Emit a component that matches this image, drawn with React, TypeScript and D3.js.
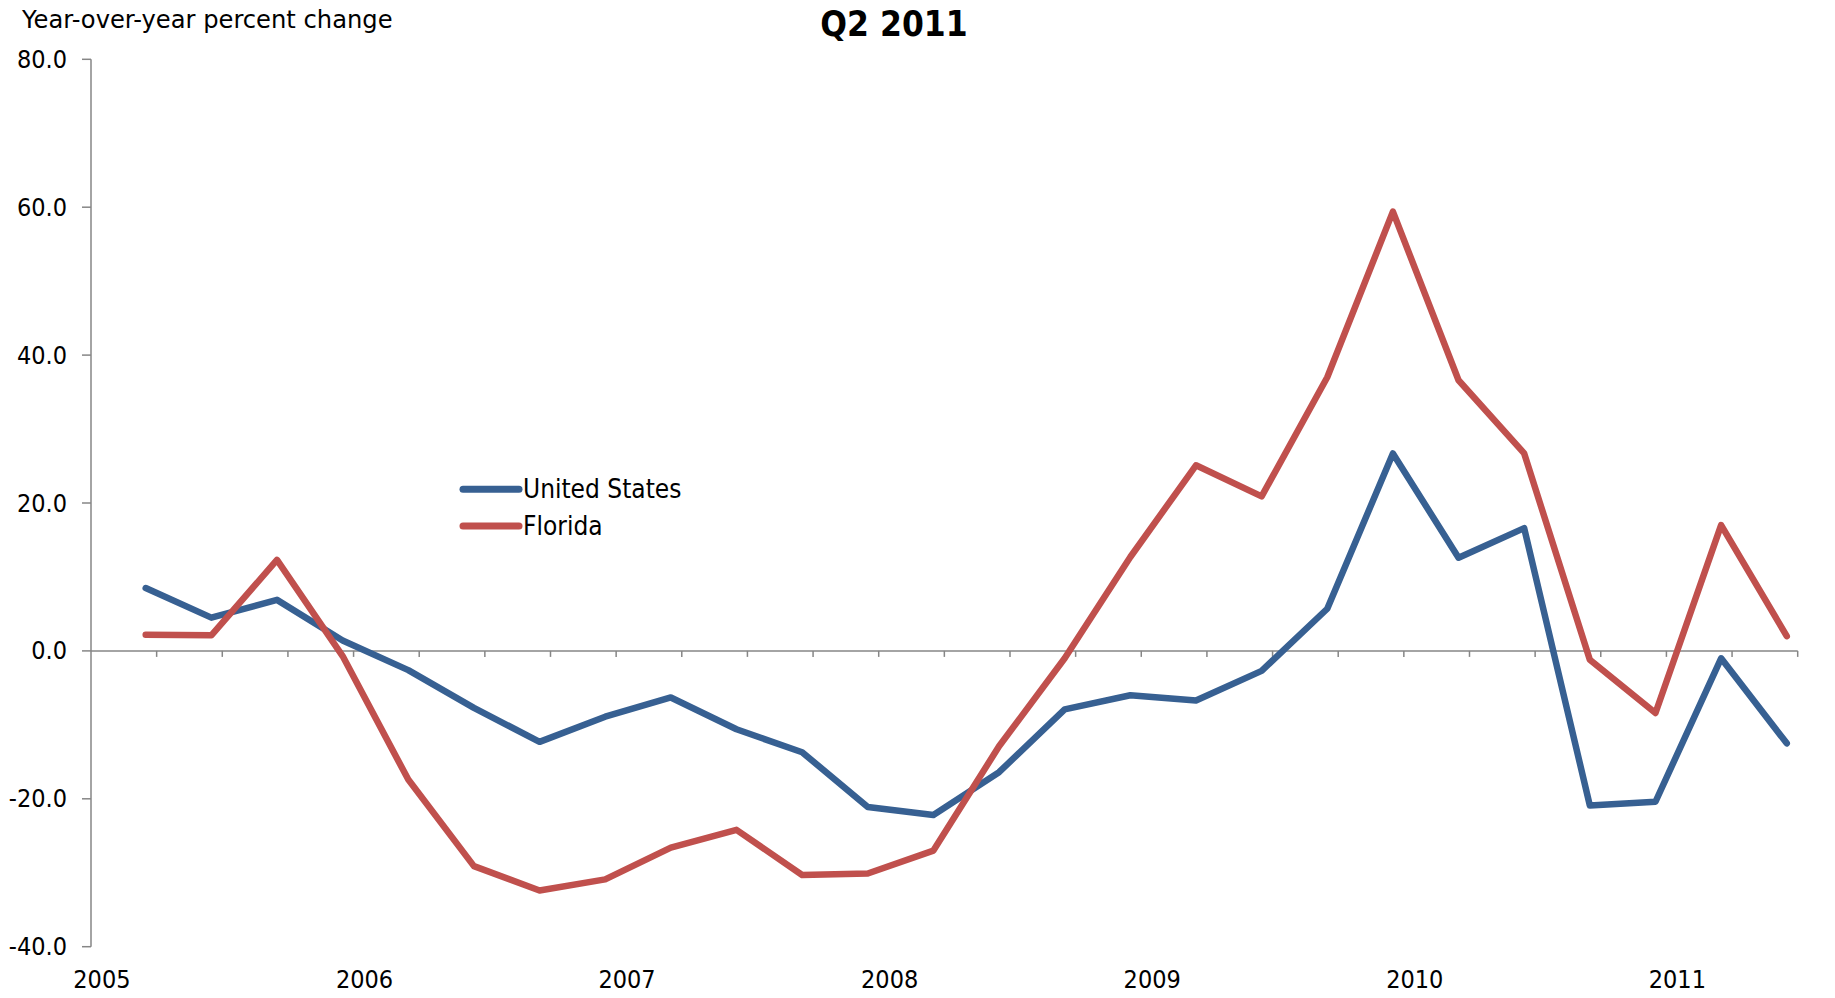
import React from 'react';
import * as d3 from 'd3';

// Quarterly observations
const periods = [
  '2005 Q1', '2005 Q2', '2005 Q3', '2005 Q4',
  '2006 Q1', '2006 Q2', '2006 Q3', '2006 Q4',
  '2007 Q1', '2007 Q2', '2007 Q3', '2007 Q4',
  '2008 Q1', '2008 Q2', '2008 Q3', '2008 Q4',
  '2009 Q1', '2009 Q2', '2009 Q3', '2009 Q4',
  '2010 Q1', '2010 Q2', '2010 Q3', '2010 Q4',
  '2011 Q1', '2011 Q2',
];

const unitedStates = [
  8.5, 4.5, 6.9, 1.4,
  -2.6, -7.7, -12.3, -8.9,
  -6.3, -10.6, -13.7, -21.1,
  -22.2, -16.4, -7.9, -6.0,
  -6.7, -2.7, 5.7, 26.7,
  12.6, 16.6, -20.9, -20.4,
  -1.0, -12.5,
];

const florida = [
  2.2, 2.1, 12.3, -0.7,
  -17.4, -29.1, -32.4, -30.9,
  -26.6, -24.2, -30.3, -30.1,
  -27.0, -12.9, -1.0, 12.7,
  25.1, 20.9, 37.0, 59.4,
  36.6, 26.7, -1.2, -8.4,
  17.0, 2.0,
];

const yearLabels = ['2005', '2006', '2007', '2008', '2009', '2010', '2011'];
const yTicks = [-40, -20, 0, 20, 40, 60, 80];

const seriesNames = ['United States', 'Florida'];
const seriesColors = ['#376092', '#C0504D'];

const titleText = 'Q2 2011';
const yAxisLabel = 'Year-over-year percent change';

const W = 1835;
const H = 998;

// month index (months since Jan 2005), plotted at middle of the quarter's last month
function periodToMonth(p: string): number {
  const [y, q] = p.split(' Q');
  return (parseInt(y, 10) - 2005) * 12 + parseInt(q, 10) * 3 - 1 + 0.5;
}

export default function App() {
  const x = d3.scaleLinear().domain([0, 78]).range([91, 1797.7]);
  const y = d3.scaleLinear().domain([-40, 80]).range([946.7, 59.3]);

  const line = d3
    .line<number>()
    .x((_, i) => x(periodToMonth(periods[i])))
    .y((d) => y(d));

  const qTicks = d3.range(1, 27).map((k) => k * 3);
  const axisColor = '#868686';
  const font = '"DejaVu Sans Condensed", "DejaVu Sans", sans-serif';

  const series = [unitedStates, florida];

  return (
    <div style={{ position: 'absolute', left: 0, top: 0, width: W, height: H, overflow: 'hidden' }}>
      <svg width={W} height={H} style={{ display: 'block', background: '#fff' }}>
        {/* title */}
        <text x={894} y={36} textAnchor="middle" fontFamily={font} fontWeight="bold" fontSize={35} fill="#000">
          {titleText}
        </text>
        {/* y label */}
        <text x={22} y={27.5} fontFamily='"DejaVu Sans", sans-serif' fontSize={24.2} fill="#000">
          {yAxisLabel}
        </text>

        {/* y axis */}
        <line x1={x(0)} x2={x(0)} y1={y(80)} y2={y(-40)} stroke={axisColor} strokeWidth={1.5} />
        {yTicks.map((t) => (
          <g key={t}>
            <line x1={x(0) - 9} x2={x(0)} y1={y(t)} y2={y(t)} stroke={axisColor} strokeWidth={1.5} />
            <text
              x={67}
              y={y(t)}
              textAnchor="end"
              dominantBaseline="central"
              fontFamily={font}
              fontSize={25}
              fill="#000"
            >
              {t.toFixed(1)}
            </text>
          </g>
        ))}

        {/* x axis at zero */}
        <line x1={x(0)} x2={x(78)} y1={y(0)} y2={y(0)} stroke={axisColor} strokeWidth={1.5} />
        {qTicks.map((m) => (
          <line key={m} x1={x(m)} x2={x(m)} y1={y(0)} y2={y(0) + 6} stroke={axisColor} strokeWidth={1.5} />
        ))}
        {yearLabels.map((yl) => (
          <text
            key={yl}
            x={x((parseInt(yl, 10) - 2005) * 12 + 0.5)}
            y={988}
            textAnchor="middle"
            fontFamily={font}
            fontSize={25}
            fill="#000"
          >
            {yl}
          </text>
        ))}

        {/* series */}
        {series.map((s, i) => (
          <path
            key={seriesNames[i]}
            d={line(s) || ''}
            fill="none"
            stroke={seriesColors[i]}
            strokeWidth={6.5}
            strokeLinejoin="round"
            strokeLinecap="round"
          />
        ))}

        {/* legend */}
        {seriesNames.map((n, i) => (
          <g key={n} transform={`translate(0, ${489.3 + i * 36.7})`}>
            <line x1={463} x2={519} y1={0} y2={0} stroke={seriesColors[i]} strokeWidth={7} strokeLinecap="round" />
            <text x={523} y={0} dominantBaseline="central" fontFamily={font} fontSize={26} fill="#000">
              {n}
            </text>
          </g>
        ))}
      </svg>
    </div>
  );
}
